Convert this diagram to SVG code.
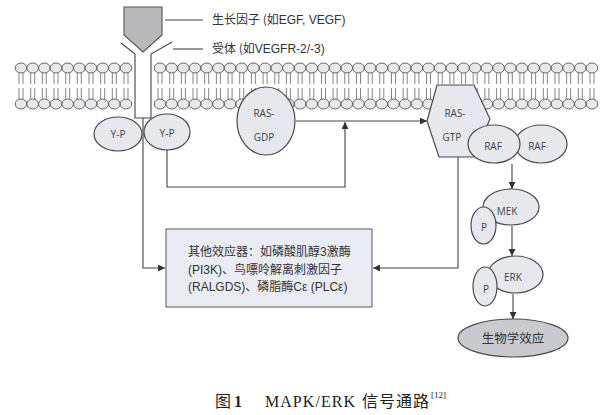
<svg xmlns="http://www.w3.org/2000/svg" xmlns:xlink="http://www.w3.org/1999/xlink" width="604" height="415" viewBox="0 0 604 415">
<style>
.node{fill:#e6e8ee;stroke:#4a4a4a;stroke-width:1.2}
.lbl{font-family:"Open Sans","Liberation Sans",sans-serif;font-size:10px;fill:#444;text-anchor:middle;dominant-baseline:central}
.cjk{font-family:"Noto Sans CJK SC",sans-serif;fill:#333}
.lat{font-family:"Liberation Sans",sans-serif}
.conn{fill:none;stroke:#444;stroke-width:1.1}
.head{fill:#e9e9ed;stroke:#555;stroke-width:0.9}
.tail{stroke:#666;stroke-width:0.8}
.cap{font-family:"Liberation Serif","Noto Sans CJK SC",serif;fill:#222}
</style>
<defs>
<marker id="arr" viewBox="0 0 10 10" refX="10" refY="5" markerWidth="7" markerHeight="7" orient="auto" markerUnits="userSpaceOnUse">
<path d="M0,0 L10,5 L0,10 z" fill="#333"/>
</marker>
<g id="lipid">
<line class="tail" x1="-2" y1="73" x2="-2" y2="84"/>
<line class="tail" x1="2" y1="73" x2="2" y2="84"/>
<line class="tail" x1="-2" y1="88" x2="-2" y2="99"/>
<line class="tail" x1="2" y1="88" x2="2" y2="99"/>
<ellipse class="head" cx="0" cy="68" rx="5.8" ry="5"/>
<ellipse class="head" cx="0" cy="104" rx="5.8" ry="5"/>
</g>
</defs>
<rect width="604" height="415" fill="#fff"/>
<g id="membrane">
<use xlink:href="#lipid" x="21"/><use xlink:href="#lipid" x="32.7"/><use xlink:href="#lipid" x="44.3"/><use xlink:href="#lipid" x="56"/><use xlink:href="#lipid" x="67.7"/><use xlink:href="#lipid" x="79.3"/><use xlink:href="#lipid" x="91"/><use xlink:href="#lipid" x="102.7"/><use xlink:href="#lipid" x="114.3"/><use xlink:href="#lipid" x="126"/>
<use xlink:href="#lipid" x="160"/><use xlink:href="#lipid" x="171.7"/><use xlink:href="#lipid" x="183.4"/><use xlink:href="#lipid" x="195"/><use xlink:href="#lipid" x="206.7"/><use xlink:href="#lipid" x="218.4"/><use xlink:href="#lipid" x="230.1"/><use xlink:href="#lipid" x="241.7"/><use xlink:href="#lipid" x="253.4"/><use xlink:href="#lipid" x="265.1"/><use xlink:href="#lipid" x="276.8"/><use xlink:href="#lipid" x="288.4"/><use xlink:href="#lipid" x="300.1"/><use xlink:href="#lipid" x="311.8"/><use xlink:href="#lipid" x="323.5"/><use xlink:href="#lipid" x="335.1"/><use xlink:href="#lipid" x="346.8"/><use xlink:href="#lipid" x="358.5"/><use xlink:href="#lipid" x="370.2"/><use xlink:href="#lipid" x="381.8"/><use xlink:href="#lipid" x="393.5"/><use xlink:href="#lipid" x="405.2"/><use xlink:href="#lipid" x="416.9"/><use xlink:href="#lipid" x="428.5"/><use xlink:href="#lipid" x="440.2"/><use xlink:href="#lipid" x="451.9"/><use xlink:href="#lipid" x="463.6"/><use xlink:href="#lipid" x="475.2"/><use xlink:href="#lipid" x="486.9"/><use xlink:href="#lipid" x="498.6"/><use xlink:href="#lipid" x="510.3"/><use xlink:href="#lipid" x="521.9"/><use xlink:href="#lipid" x="533.6"/><use xlink:href="#lipid" x="545.3"/><use xlink:href="#lipid" x="557"/><use xlink:href="#lipid" x="568.6"/><use xlink:href="#lipid" x="580.3"/><use xlink:href="#lipid" x="592"/>
</g>
<g id="connectors">
<polyline class="conn" points="143,118 143,268 165,268" marker-end="url(#arr)"/>
<polyline class="conn" points="167,150 167,187 345,187 345,122" marker-end="url(#arr)"/>
<line class="conn" x1="296" y1="121" x2="427" y2="121" marker-end="url(#arr)"/>
<polyline class="conn" points="458,157 458,268 373,268" marker-end="url(#arr)"/>
<line class="conn" x1="512" y1="164" x2="512" y2="189" marker-end="url(#arr)"/>
<line class="conn" x1="512" y1="226" x2="512" y2="256" marker-end="url(#arr)"/>
<line class="conn" x1="513" y1="294" x2="513" y2="319" marker-end="url(#arr)"/>
<line class="conn" x1="165" y1="20" x2="203" y2="20"/>
<line class="conn" x1="173" y1="49" x2="203" y2="49"/>
</g>
<g id="receptor">
<rect x="135" y="54" width="16" height="64" fill="#fff"/>
<polyline class="conn" points="121,43 135,54 135,118 151,118 151,54 172,42"/>
</g>
<g id="ligand">
<polygon points="124,7 162,7 162,35 143,52 124,35" fill="#b9b9bc" stroke="#555" stroke-width="1.1"/>
</g>
<g id="label-gf"><text class="cjk" x="212" y="24" font-size="12">生长因子 (如<tspan class="lat">EGF, VEGF)</tspan></text></g>
<g id="label-rec"><text class="cjk" x="212" y="53" font-size="12">受体 (如<tspan class="lat">VEGFR-2/-3)</tspan></text></g>
<g id="yp1"><ellipse class="node" cx="118" cy="134" rx="24" ry="17"/><text class="lbl" x="118" y="134">Y-P</text></g>
<g id="yp2"><ellipse class="node" cx="167" cy="132" rx="23" ry="18"/><text class="lbl" x="167" y="133">Y-P</text></g>
<g id="ras-gdp"><ellipse class="node" cx="266" cy="121" rx="29" ry="34"/><text class="lbl" x="264" y="113">RAS-</text><text class="lbl" x="264" y="137">GDP</text></g>
<g id="ras-gtp"><polygon class="node" points="437,85 474,85 490,119 474,157 439,157 427,121"/><text class="lbl" x="455" y="113">RAS-</text><text class="lbl" x="452" y="137">GTP</text></g>
<g id="raf2"><ellipse class="node" cx="541" cy="144" rx="26" ry="19"/><text class="lbl" x="537" y="146">RAF</text></g>
<g id="raf1"><ellipse class="node" cx="494" cy="144" rx="26" ry="19"/><text class="lbl" x="493" y="146">RAF</text></g>
<g id="mek"><ellipse class="node" cx="511" cy="207" rx="28" ry="18"/><text class="lbl" x="507" y="211">MEK</text><ellipse class="node" cx="483.5" cy="225.5" rx="12.5" ry="18.5"/><text class="lbl" x="484" y="227">P</text></g>
<g id="erk"><ellipse class="node" cx="515.5" cy="274.5" rx="27.5" ry="18.5"/><text class="lbl" x="513" y="277">ERK</text><ellipse class="node" cx="485" cy="286.5" rx="12" ry="19.5"/><text class="lbl" x="486" y="289">P</text></g>
<g id="effect"><ellipse cx="513" cy="338" rx="55" ry="19" fill="#c9cacf" stroke="#4a4a4a" stroke-width="1.2"/><text class="cjk" x="513" y="343" font-size="12.5" text-anchor="middle">生物学效应</text></g>
<g id="effectors">
<rect x="166" y="229" width="206" height="78" fill="#e9ecf3" stroke="#666" stroke-width="1.1"/>
<text class="cjk" x="188" y="256" font-size="12">其他效应器：如磷酸肌醇<tspan class="lat">3</tspan>激酶</text>
<text class="cjk" x="188" y="273.5" font-size="12"><tspan class="lat">(PI3K)</tspan>、鸟嘌呤解离刺激因子</text>
<text class="cjk" x="188" y="291" font-size="12"><tspan class="lat">(RALGDS)</tspan>、磷脂酶<tspan class="lat">Cε (PLCε)</tspan></text>
</g>
<g id="caption">
<text class="cap" x="215" y="407" font-size="16">图</text>
<text class="cap" x="234" y="407" font-size="16" font-weight="bold">1</text>
<text class="cap" x="265" y="407" font-size="16" textLength="90" lengthAdjust="spacing">MAPK/ERK</text>
<text class="cap" x="362" y="407" font-size="16" textLength="67" lengthAdjust="spacing">信号通路</text>
<text class="cap" x="431" y="398" font-size="9">[12]</text>
</g>
</svg>
